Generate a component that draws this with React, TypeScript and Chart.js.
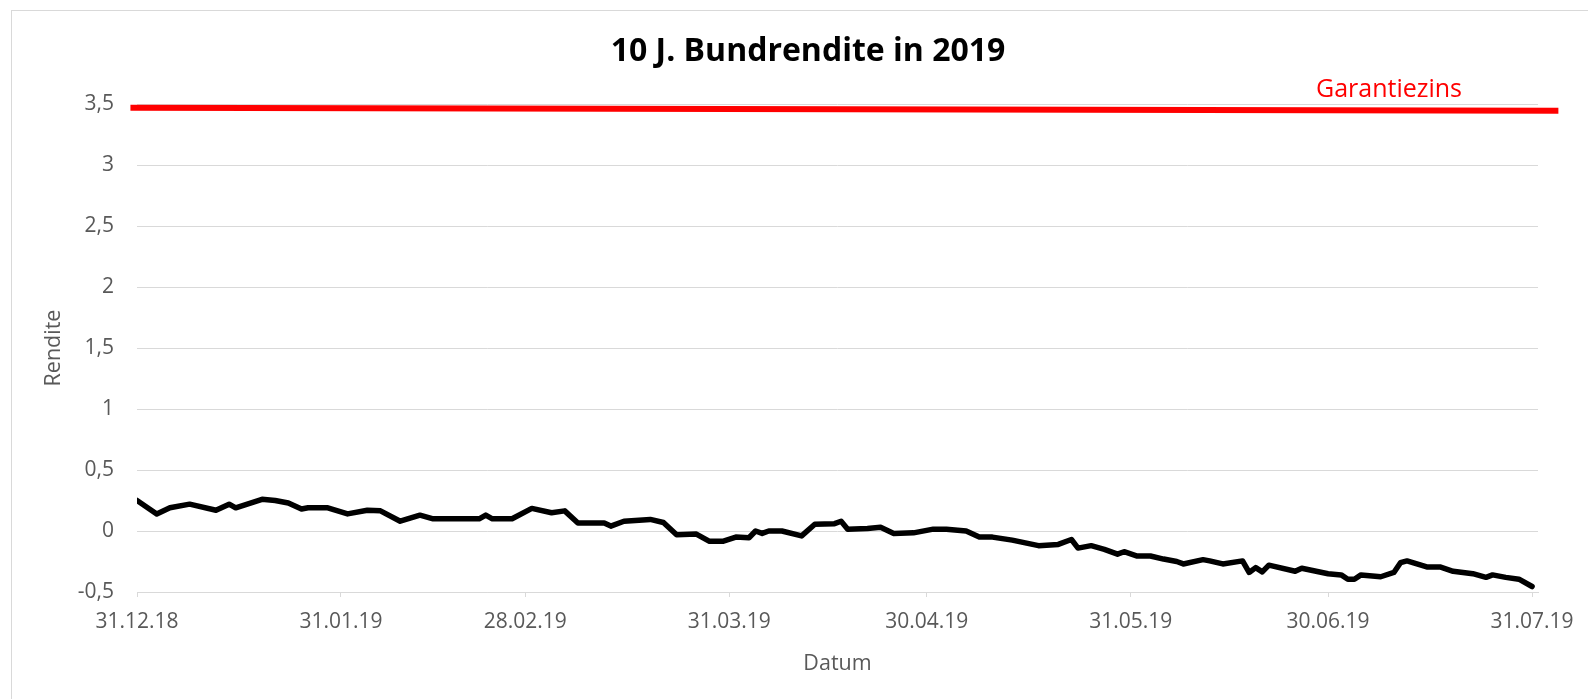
import { useEffect, useRef } from "react";
import { Chart, registerables } from "chart.js";

Chart.register(...registerables);

// Datum (TT.MM.JJ) und 10J. Bundrendite
const dates = [
  "31.12.18", "03.01.19", "05.01.19", "08.01.19", "12.01.19", "14.01.19", "15.01.19", "19.01.19",
  "21.01.19", "23.01.19", "25.01.19", "26.01.19", "29.01.19", "01.02.19", "04.02.19", "06.02.19",
  "09.02.19", "12.02.19", "14.02.19", "21.02.19", "22.02.19", "23.02.19", "26.02.19", "01.03.19",
  "04.03.19", "06.03.19", "08.03.19", "12.03.19", "13.03.19", "15.03.19", "19.03.19", "21.03.19",
  "23.03.19", "26.03.19", "28.03.19", "30.03.19", "01.04.19", "03.04.19", "04.04.19", "05.04.19",
  "06.04.19", "08.04.19", "11.04.19", "13.04.19", "16.04.19", "17.04.19", "18.04.19", "21.04.19",
  "23.04.19", "25.04.19", "28.04.19", "01.05.19", "03.05.19", "06.05.19", "08.05.19", "10.05.19",
  "13.05.19", "17.05.19", "20.05.19", "22.05.19", "23.05.19", "25.05.19", "27.05.19", "29.05.19",
  "30.05.19", "01.06.19", "03.06.19", "05.06.19", "07.06.19", "08.06.19", "11.06.19", "12.06.19",
  "14.06.19", "17.06.19", "18.06.19", "19.06.19", "20.06.19", "21.06.19", "25.06.19", "26.06.19",
  "30.06.19", "02.07.19", "03.07.19", "04.07.19", "05.07.19", "08.07.19", "10.07.19", "11.07.19",
  "12.07.19", "15.07.19", "17.07.19", "19.07.19", "22.07.19", "24.07.19", "25.07.19", "27.07.19",
  "29.07.19", "31.07.19",
];

const yields = [
  0.25, 0.14, 0.19, 0.22, 0.17, 0.22, 0.19, 0.26,
  0.25, 0.23, 0.18, 0.19, 0.19, 0.14, 0.17, 0.165,
  0.08, 0.13, 0.1, 0.1, 0.13, 0.1, 0.1, 0.185,
  0.15, 0.165, 0.065, 0.065, 0.04, 0.08, 0.095, 0.07,
  -0.03, -0.025, -0.085, -0.085, -0.05, -0.055, 0.0, -0.02,
  0.0, 0.0, -0.04, 0.055, 0.06, 0.08, 0.015, 0.02,
  0.03, -0.02, -0.015, 0.015, 0.015, 0.0, -0.05, -0.05,
  -0.075, -0.12, -0.11, -0.07, -0.14, -0.12, -0.15, -0.19,
  -0.17, -0.205, -0.205, -0.23, -0.25, -0.27, -0.235, -0.245,
  -0.27, -0.245, -0.34, -0.3, -0.335, -0.28, -0.33, -0.305,
  -0.35, -0.36, -0.395, -0.395, -0.36, -0.375, -0.34, -0.26,
  -0.245, -0.295, -0.295, -0.33, -0.35, -0.38, -0.36, -0.38,
  -0.395, -0.455,
];

const tickLabels = ["31.12.18", "31.01.19", "28.02.19", "31.03.19", "30.04.19", "31.05.19", "30.06.19", "31.07.19"];
const yTickValues = [-0.5, 0, 0.5, 1, 1.5, 2, 2.5, 3, 3.5];

const guaranteeDates = ["30.12.18", "04.08.19"];
const guaranteeValues = [3.47, 3.445];
const guaranteeLabel = "Garantiezins";

const titleText = "10 J. Bundrendite in 2019";
const xTitle = "Datum";
const yTitle = "Rendite";

const START = Date.UTC(2018, 11, 31);
const dayOf = (s: string) => {
  const [d, m, y] = s.split(".").map(Number);
  return (Date.UTC(2000 + y, m - 1, d) - START) / 86400000;
};

export default function App() {
  const ref = useRef<HTMLCanvasElement>(null);

  useEffect(() => {
    if (!ref.current) return;
    const family = "'Open Sans', sans-serif";
    const tickDays = tickLabels.map(dayOf);
    const grey = "#595959";
    const gridColor = "#d9d9d9";

    const labelPlugin = {
      id: "garantieLabel",
      afterDatasetsDraw(chart: any) {
        const { ctx, chartArea, scales } = chart;
        ctx.save();
        ctx.font = `25px ${family}`;
        ctx.fillStyle = "#ff0000";
        ctx.textAlign = "center";
        ctx.textBaseline = "middle";
        const x = chartArea.right - 149;
        const y = scales.y2.getPixelForValue(guaranteeValues[1]) - 21;
        ctx.fillText(guaranteeLabel, x, y);
        ctx.restore();
      },
    };

    const chart = new Chart(ref.current, {
      type: "line",
      data: {
        datasets: [
          {
            label: yTitle,
            data: dates.map((d, i) => ({ x: dayOf(d), y: yields[i] })),
            borderColor: "#000000",
            borderWidth: 5.5,
            pointRadius: 0,
            borderJoinStyle: "round",
            borderCapStyle: "round",
            tension: 0,
            yAxisID: "y",
          },
          {
            label: guaranteeLabel,
            data: guaranteeDates.map((d, i) => ({ x: dayOf(d), y: guaranteeValues[i] })),
            borderColor: "#ff0000",
            borderWidth: 6,
            pointRadius: 0,
            clip: false,
            yAxisID: "y2",
          },
        ] as any,
      },
      options: {
        animation: false,
        responsive: false,
        layout: { padding: { left: 41.4, right: 13.4, top: 0, bottom: 22.4 } },
        plugins: {
          legend: { display: false },
          tooltip: { enabled: false },
          title: {
            display: true,
            text: titleText,
            color: "#000000",
            font: { family, size: 32, weight: "bold" },
            padding: { top: 33, bottom: 32.6 },
          },
        },
        scales: {
          x: {
            type: "linear",
            min: 0,
            max: tickDays[tickDays.length - 1] + 0.9,
            afterBuildTicks: (s: any) => {
              s.ticks = tickDays.map((v) => ({ value: v }));
            },
            afterFit: (s: any) => {
              s.height = 84.6;
            },
            ticks: {
              autoSkip: false,
              maxRotation: 0,
              padding: 12,
              color: grey,
              font: { family, size: 21 },
              callback: (v: any) => {
                const i = tickDays.indexOf(Number(v));
                return i >= 0 ? tickLabels[i] : "";
              },
            },
            grid: { drawOnChartArea: false, drawTicks: true, tickLength: 5, color: gridColor },
            border: { display: true, color: gridColor },
            title: { display: true, text: xTitle, color: grey, font: { family, size: 21.5 }, padding: 0 },
          },
          y: {
            min: -0.5,
            max: 3.5,
            afterBuildTicks: (s: any) => {
              s.ticks = yTickValues.map((v) => ({ value: v }));
            },
            afterFit: (s: any) => {
              s.width = 95.6;
            },
            ticks: {
              padding: 23,
              color: grey,
              font: { family, size: 21 },
              callback: (v: any) => String(v).replace(".", ","),
            },
            grid: { color: gridColor, drawTicks: false },
            border: { display: false },
            title: { display: true, text: yTitle, color: grey, font: { family, size: 21.5 }, padding: 0 },
          },
          y2: {
            position: "right",
            min: -0.5,
            max: 3.5,
            ticks: { display: false },
            grid: { display: false },
            border: { display: false },
            afterFit: (s: any) => {
              s.width = 36.6;
            },
          },
        },
      } as any,
      plugins: [labelPlugin],
    });

    return () => chart.destroy();
  }, []);

  return (
    <div
      style={{
        position: "absolute",
        left: 0,
        top: 0,
        width: 1588,
        height: 699,
        overflow: "hidden",
        background: "#ffffff",
      }}
    >
      <div
        style={{
          position: "absolute",
          left: 11,
          top: 10,
          width: 1600,
          height: 720,
          borderLeft: "1px solid #d9d9d9",
          borderTop: "1px solid #d9d9d9",
        }}
      />
      <canvas ref={ref} width={1588} height={699} style={{ position: "absolute", left: 0, top: 0 }} />
    </div>
  );
}
